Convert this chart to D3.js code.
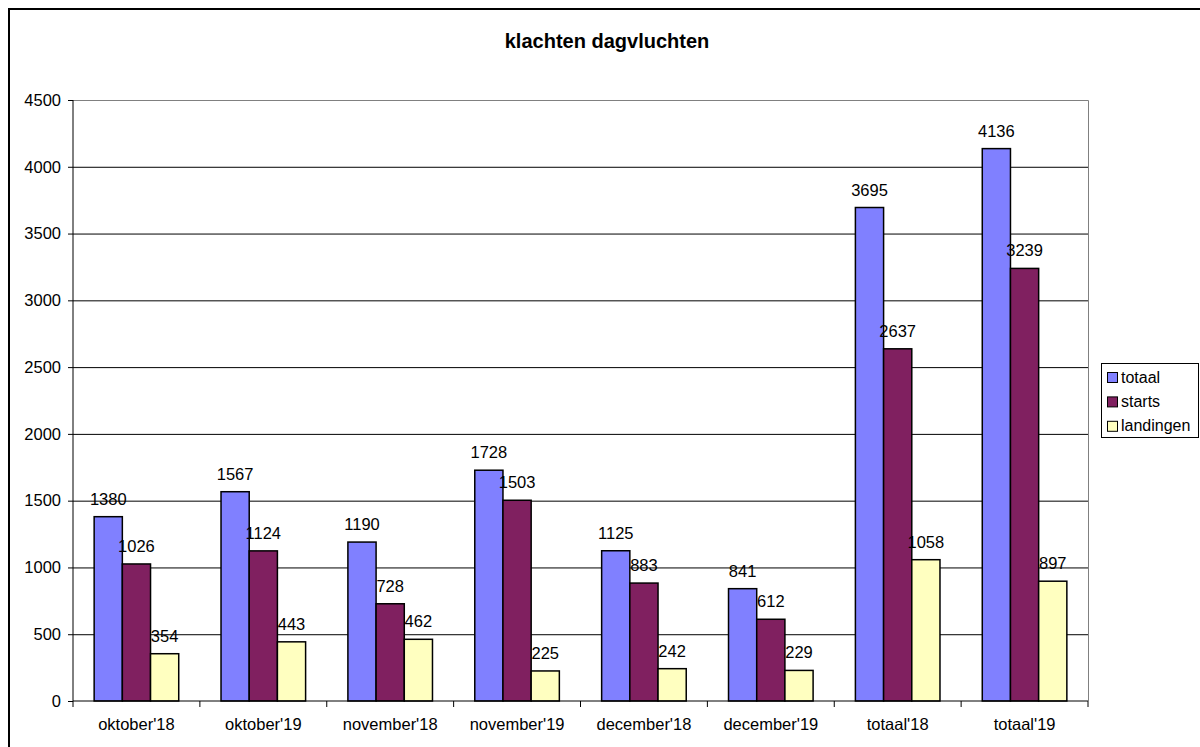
<!DOCTYPE html>
<html>
<head>
<meta charset="utf-8">
<script src="https://cdn.jsdelivr.net/npm/d3@7"></script>
<style>
  body { margin: 0; background: #fff; }
  text { font-family: Arial, "Liberation Sans", sans-serif; fill: #000; }
</style>
</head>
<body>
<svg id="chart" width="1200" height="747"></svg>
<script>
// Gegevens
const categories = ["oktober'18", "oktober'19", "november'18", "november'19", "december'18", "december'19", "totaal'18", "totaal'19"];
const seriesNames = ["totaal", "starts", "landingen"];
const totaal = [1380, 1567, 1190, 1728, 1125, 841, 3695, 4136];
const starts = [1026, 1124, 728, 1503, 883, 612, 2637, 3239];
const landingen = [354, 443, 462, 225, 242, 229, 1058, 897];
const yTicks = [0, 500, 1000, 1500, 2000, 2500, 3000, 3500, 4000, 4500];

const seriesValues = [totaal, starts, landingen];
const colors = ["#8080FF", "#802060", "#FFFFC0"];
const fontSize = "16.5px";

const svg = d3.select("#chart");

// buitenrand
svg.append("rect")
    .attr("x", 9).attr("y", 9)
    .attr("width", 1200).attr("height", 760)
    .attr("fill", "none")
    .attr("stroke", "#000")
    .attr("stroke-width", 2);

// titel
svg.append("text")
    .attr("x", 607).attr("y", 48)
    .attr("text-anchor", "middle")
    .style("font-size", "20px")
    .style("font-weight", "bold")
    .text("klachten dagvluchten");

const plot = { left: 73, right: 1088, top: 100, bottom: 701 };

const x = d3.scaleBand()
    .domain(categories)
    .range([plot.left, plot.right])
    .paddingInner(0)
    .paddingOuter(0);

// 3 balken + gap 150%
const barW = x.bandwidth() / 4.5;
const xs = d3.scaleBand()
    .domain(seriesNames)
    .range([barW * 0.75, barW * 3.75]);

const y = d3.scaleLinear()
    .domain([0, 4500])
    .range([plot.bottom, plot.top]);

// rasterlijnen
svg.append("g")
    .selectAll("line")
    .data(yTicks.filter(d => d > 0 && d < 4500))
    .join("line")
    .attr("x1", plot.left).attr("x2", plot.right)
    .attr("y1", d => y(d) + 0.5).attr("y2", d => y(d) + 0.5)
    .attr("stroke", "#000")
    .attr("stroke-width", 1);

// plotgebied rand (grijs boven/rechts)
svg.append("path")
    .attr("d", `M${plot.left},${plot.top + 0.5}H${plot.right + 0.5}V${plot.bottom}`)
    .attr("fill", "none")
    .attr("stroke", "#808080")
    .attr("stroke-width", 1);

// balken
const groups = svg.append("g")
    .selectAll("g")
    .data(seriesNames)
    .join("g")
    .attr("fill", (d, i) => colors[i]);

groups.selectAll("rect")
    .data((s, si) => categories.map((c, ci) => ({ s, c, v: seriesValues[si][ci] })))
    .join("rect")
    .attr("x", d => x(d.c) + xs(d.s))
    .attr("y", d => y(d.v))
    .attr("width", xs.bandwidth())
    .attr("height", d => y(0) - y(d.v))
    .attr("stroke", "#000")
    .attr("stroke-width", 1.5);

// waardelabels
groups.selectAll("text")
    .data((s, si) => categories.map((c, ci) => ({ s, c, v: seriesValues[si][ci] })))
    .join("text")
    .attr("x", d => x(d.c) + xs(d.s) + xs.bandwidth() / 2)
    .attr("y", d => y(d.v) - 12)
    .attr("text-anchor", "middle")
    .style("font-size", fontSize)
    .style("fill", "#000")
    .text(d => d.v);

// y-as
const yAxis = svg.append("g")
    .attr("transform", `translate(${plot.left},0)`)
    .call(d3.axisLeft(y).tickValues(yTicks).tickSize(5).tickPadding(7).tickFormat(d3.format("d")));
yAxis.selectAll("text").style("font-size", fontSize);
yAxis.select(".domain").attr("d", `M0,${plot.top}V${plot.bottom}`);

// x-as
const xAxis = svg.append("g")
    .attr("transform", `translate(0,${plot.bottom})`)
    .call(d3.axisBottom(x).tickSize(0).tickPadding(17));
xAxis.selectAll("text").style("font-size", fontSize);
xAxis.select(".domain").attr("d", `M${plot.left},0H${plot.right}`);
xAxis.selectAll(".boundary")
    .data(d3.range(categories.length + 1))
    .join("line")
    .attr("class", "boundary")
    .attr("x1", i => plot.left + i * x.step())
    .attr("x2", i => plot.left + i * x.step())
    .attr("y1", 0).attr("y2", 6)
    .attr("stroke", "#000");

// legenda
const legend = svg.append("g").attr("transform", "translate(1101,363)");
legend.append("rect")
    .attr("x", 0.5).attr("y", 0.5)
    .attr("width", 97).attr("height", 74)
    .attr("fill", "#fff")
    .attr("stroke", "#000");
const items = legend.selectAll("g.item")
    .data(seriesNames)
    .join("g")
    .attr("class", "item")
    .attr("transform", (d, i) => `translate(6.5,${9.5 + i * 24.4})`);
items.append("rect")
    .attr("width", 10).attr("height", 10)
    .attr("fill", (d, i) => colors[i])
    .attr("stroke", "#000");
items.append("text")
    .attr("x", 13.5).attr("y", 10)
    .style("font-size", "16px")
    .text(d => d);
</script>
</body>
</html>
